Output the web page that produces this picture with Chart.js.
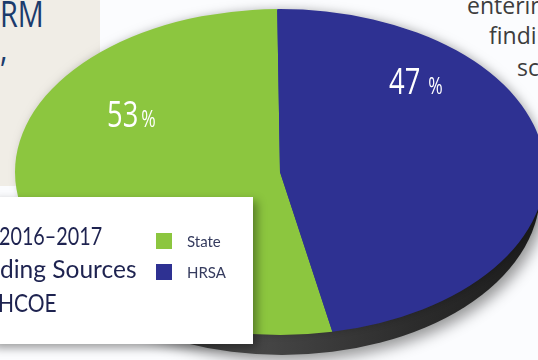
<!DOCTYPE html>
<html>
<head>
<meta charset="utf-8">
<script src="https://cdn.jsdelivr.net/npm/chart.js@4/dist/chart.umd.min.js"></script>
<style>
  html, body { margin: 0; padding: 0; }
  body { width: 538px; height: 360px; overflow: hidden; position: relative; background: #fbfcfe; font-family: Lato, "Open Sans", sans-serif; }
  .panel { position: absolute; left: 0; top: 0; width: 100px; height: 186px; background: #f0ede6; }
  .head { position: absolute; left: 0; font-family: "Open Sans", sans-serif; font-weight: 400; font-size: 37px; line-height: 40px; color: #1b3b6c; transform: scaleX(0.78); transform-origin: left top; white-space: nowrap; }
  .side { position: absolute; font-family: "Open Sans", sans-serif; font-size: 23px; line-height: 30px; color: #3d3d3d; white-space: nowrap; }
  #chart { position: absolute; left: 0; top: 0; z-index: 2; }
  .keybox { position: absolute; left: -10px; top: 197px; width: 263px; height: 147px; background: #fff; z-index: 3; box-shadow: 4px 4px 9px rgba(0,0,0,0.38); }
  .title { position: absolute; font-size: 25px; line-height: 30px; color: #1e2350; white-space: nowrap; transform-origin: left top; }
  .key { position: absolute; left: 166px; height: 16px; font-size: 15px; line-height: 16px; color: #353b5e; white-space: nowrap; }
  .key i { display: inline-block; width: 16px; height: 16px; vertical-align: top; margin-right: 15px; }
</style>
</head>
<body>
<div class="panel"></div>
<div class="head" style="top:-7px">RM</div>
<div class="head" style="top:27px">,</div>
<div class="side" style="left:467px; top:-10px">enterin</div>
<div class="side" style="left:489px; top:20px">findi</div>
<div class="side" style="left:517px; top:52px">sc</div>

<canvas id="chart" width="538" height="360"></canvas>

<div class="keybox">
  <div class="title" style="left:9px; top:23px; transform:scaleX(0.79)">2016–2017</div>
  <div class="title" style="left:10px; top:56px; transform:scaleX(0.98)">ding Sources</div>
  <div class="title" style="left:8px; top:90px; transform:scaleX(0.84)">HCOE</div>
  <div id="keys"></div>
</div>

<script>
// funding split
const sources = ['State', 'HRSA'];
const shares = [53, 47];
const sliceColors = ['#8cc63f', '#2e3192'];

// the disc is drawn flattened to look tilted
const squash = 0.615;
const rimDepth = 20;

// legend rows
const keys = document.getElementById('keys');
sources.forEach((name, i) => {
    const row = document.createElement('div');
    row.className = 'key';
    row.style.top = (36 + i * 31) + 'px';
    row.innerHTML = '<i style="background:' + sliceColors[i] + '"></i>' + name;
    keys.appendChild(row);
});

// where each percentage sits and the gap before its % sign
const labelSpots = [
    { x: 107, y: 127, gap: 4 },
    { x: 389, y: 94, gap: 10.5 }
];

const tiltedPie = {
    id: 'tiltedPie',
    beforeDatasetsDraw(chart) {
        const arc = chart.getDatasetMeta(0).data[0];
        const cx = arc.x, cy = arc.y, r = arc.outerRadius;
        const ry = r * squash;
        const ctx = chart.ctx;

        ctx.save();
        // dark edge of the disc with its drop shadow
        ctx.shadowColor = 'rgba(0,0,0,0.4)';
        ctx.shadowBlur = 14;
        ctx.shadowOffsetX = 5;
        ctx.shadowOffsetY = 6;
        const g = ctx.createLinearGradient(cx - r, 0, cx + r, 0);
        g.addColorStop(0, '#262626');
        g.addColorStop(0.45, '#474747');
        g.addColorStop(0.75, '#2c2c2c');
        g.addColorStop(1, '#1b1b1b');
        ctx.fillStyle = g;
        ctx.beginPath();
        ctx.ellipse(cx + 2, cy + rimDepth, r - 7, ry, 0, 0, Math.PI * 2);
        ctx.fill();

        // soft halo round the top face
        ctx.shadowColor = 'rgba(0,0,0,0.28)';
        ctx.shadowBlur = 10;
        ctx.shadowOffsetX = 3;
        ctx.shadowOffsetY = -1;
        ctx.fillStyle = sliceColors[1];
        ctx.beginPath();
        ctx.ellipse(cx, cy, r - 1, ry - 1, 0, 0, Math.PI * 2);
        ctx.fill();
        ctx.restore();

        // flatten the slices
        ctx.save();
        ctx.translate(cx, cy);
        ctx.scale(1, squash);
        ctx.translate(-cx, -cy);
    },
    afterDatasetsDraw(chart) {
        const ctx = chart.ctx;
        ctx.restore();

        ctx.save();
        ctx.fillStyle = '#ffffff';
        ctx.textBaseline = 'alphabetic';
        shares.forEach((v, i) => {
            const spot = labelSpots[i];
            ctx.save();
            ctx.translate(spot.x, spot.y);
            ctx.scale(0.76, 1);
            ctx.font = '36px "Open Sans"';
            const num = String(v);
            ctx.fillText(num, 0, 0);
            const w = ctx.measureText(num).width;
            ctx.font = '23px "Open Sans"';
            ctx.fillText('%', w + spot.gap, 0);
            ctx.restore();
        });
        ctx.restore();
    }
};

const ctx = document.getElementById('chart').getContext('2d');
const chart = new Chart(ctx, {
    type: 'pie',
    data: {
        labels: sources,
        datasets: [{
            data: shares,
            backgroundColor: sliceColors,
            borderWidth: 0,
            clip: false
        }]
    },
    options: {
        responsive: false,
        animation: false,
        rotation: 168.6,
        radius: 265,
        layout: { padding: { left: 22, bottom: 16 } },
        plugins: {
            legend: { display: false },
            tooltip: { enabled: false }
        }
    },
    plugins: [tiltedPie]
});
</script>
</body>
</html>
